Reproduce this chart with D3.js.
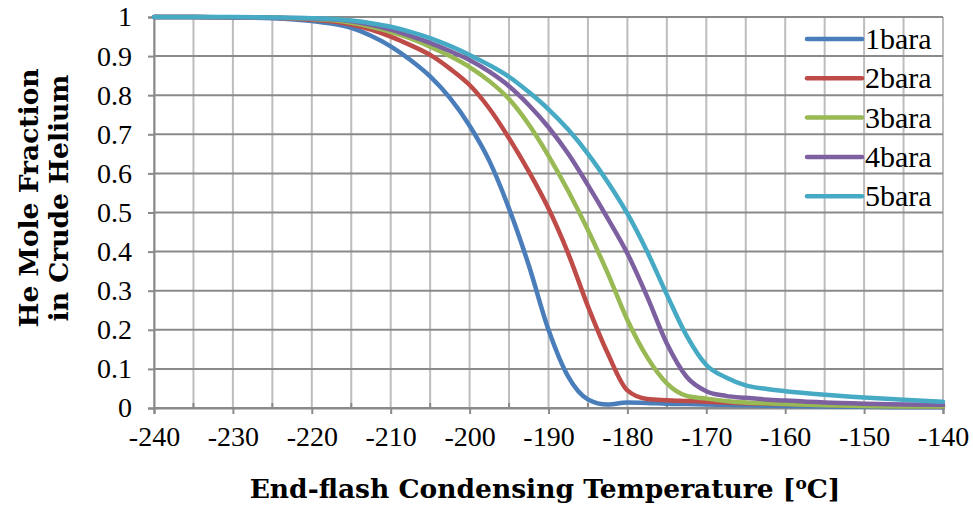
<!DOCTYPE html>
<html>
<head>
<meta charset="utf-8">
<script src="https://cdn.jsdelivr.net/npm/d3@7"></script>
<style>
  body { margin: 0; background: #fff; }
  text { fill: #000; }
</style>
</head>
<body>
<div id="chart"></div>
<script>
// temperatures (degC) sampled along the curves
const temps = [-240, -235, -230, -225, -220, -217.5, -215, -212.5, -210, -207.5, -205, -202.5,
  -200, -197.5, -195, -192.5, -190, -187.5, -185, -182.5, -180, -177.5, -175, -172.5, -170,
  -167.5, -165, -162.5, -160, -155, -150, -145, -140];

// He mole fraction in crude helium, one array per pressure
const bara1 = [1, 1, 0.999, 0.997, 0.99, 0.983, 0.972, 0.952, 0.925, 0.89, 0.848, 0.793,
  0.722, 0.632, 0.51, 0.365, 0.2, 0.08, 0.022, 0.009, 0.014, 0.013, 0.011, 0.01, 0.009,
  0.008, 0.007, 0.006, 0.005, 0.004, 0.003, 0.002, 0.002];
const bara2 = [1, 1, 0.999, 0.998, 0.993, 0.989, 0.981, 0.968, 0.95, 0.928, 0.903, 0.868,
  0.826, 0.766, 0.69, 0.605, 0.51, 0.395, 0.26, 0.14, 0.045, 0.023, 0.02, 0.018, 0.016,
  0.014, 0.012, 0.011, 0.01, 0.008, 0.006, 0.005, 0.004];
const bara3 = [1, 1, 0.999, 0.998, 0.995, 0.992, 0.985, 0.975, 0.962, 0.945, 0.924, 0.9,
  0.872, 0.836, 0.79, 0.725, 0.645, 0.555, 0.455, 0.345, 0.225, 0.13, 0.063, 0.031, 0.024,
  0.018, 0.014, 0.012, 0.01, 0.007, 0.005, 0.004, 0.004];
const bara4 = [1, 1, 0.999, 0.998, 0.996, 0.994, 0.989, 0.98, 0.968, 0.952, 0.934, 0.913,
  0.89, 0.86, 0.823, 0.775, 0.718, 0.65, 0.57, 0.485, 0.395, 0.285, 0.165, 0.08, 0.043,
  0.031, 0.026, 0.022, 0.019, 0.014, 0.011, 0.009, 0.008];
const bara5 = [1, 1, 1, 0.999, 0.997, 0.995, 0.991, 0.984, 0.975, 0.962, 0.946, 0.926,
  0.903, 0.877, 0.847, 0.808, 0.764, 0.712, 0.65, 0.578, 0.497, 0.4, 0.29, 0.185, 0.11,
  0.078, 0.058, 0.049, 0.043, 0.034, 0.027, 0.021, 0.016];

const seriesNames = ["1bara", "2bara", "3bara", "4bara", "5bara"];
const seriesValues = [bara1, bara2, bara3, bara4, bara5];
const seriesColors = ["#4A7EBB", "#BE4B48", "#98B954", "#7D60A0", "#46AAC5"];

const xTicks = [-240, -230, -220, -210, -200, -190, -180, -170, -160, -150, -140];
const xGrid = d3.range(-240, -139, 5);
const yTicks = [0, 0.1, 0.2, 0.3, 0.4, 0.5, 0.6, 0.7, 0.8, 0.9, 1];

const width = 973;
const height = 508;
const tickFont = "'Liberation Serif', serif";
const titleFont = "'DejaVu Serif', serif";

const svg = d3.select("#chart")
    .append("svg")
    .attr("width", width)
    .attr("height", height);

const x = d3.scaleLinear().domain([-240, -140]).range([154, 943]);
const y = d3.scaleLinear().domain([0, 1]).range([408, 17]);

// vertical gridlines every 5 degrees
svg.append("g")
    .selectAll("line")
    .data(xGrid)
    .enter().append("line")
    .attr("x1", d => x(d))
    .attr("x2", d => x(d))
    .attr("y1", y(0))
    .attr("y2", y(1))
    .attr("stroke", "#BDBDBD")
    .attr("stroke-width", 2);

// horizontal gridlines
svg.append("g")
    .selectAll("line")
    .data(yTicks)
    .enter().append("line")
    .attr("x1", x(-240))
    .attr("x2", x(-140))
    .attr("y1", d => y(d))
    .attr("y2", d => y(d))
    .attr("stroke", "#8A8A8A")
    .attr("stroke-width", 2);

// minor ticks (inside) on the x axis
svg.append("g")
    .selectAll("line")
    .data(xGrid.filter(d => d % 10 !== 0))
    .enter().append("line")
    .attr("x1", d => x(d))
    .attr("x2", d => x(d))
    .attr("y1", y(0))
    .attr("y2", y(0) - 5)
    .attr("stroke", "#8A8A8A")
    .attr("stroke-width", 2);

// axes
const xAxis = svg.append("g")
    .attr("transform", `translate(0,${y(0)})`)
    .call(d3.axisBottom(x).tickValues(xTicks).tickSize(6).tickPadding(12).tickFormat(d => String(d)));

const yAxis = svg.append("g")
    .attr("transform", `translate(${x(-240)},0)`)
    .call(d3.axisLeft(y).tickValues(yTicks).tickSize(6).tickPadding(16).tickFormat(d => String(d)));

[xAxis, yAxis].forEach(a => {
    a.select(".domain").attr("stroke", "#8A8A8A").attr("stroke-width", 2);
    a.selectAll(".tick line").attr("stroke", "#8A8A8A").attr("stroke-width", 2);
    a.selectAll(".tick text")
        .attr("font-family", tickFont)
        .attr("font-size", "28px")
        .attr("fill", "#000");
});

// curves
const line = d3.line()
    .x(d => x(d[0]))
    .y(d => y(d[1]))
    .curve(d3.curveMonotoneX);

svg.append("g")
    .selectAll("path")
    .data(seriesValues)
    .enter().append("path")
    .attr("d", vals => line(temps.map((t, i) => [t, vals[i]])))
    .attr("fill", "none")
    .attr("stroke", (d, i) => seriesColors[i])
    .attr("stroke-width", 4.5)
    .attr("stroke-linejoin", "round")
    .attr("stroke-linecap", "round");

// legend
const legend = svg.append("g")
    .selectAll("g")
    .data(seriesNames)
    .enter().append("g")
    .attr("transform", (d, i) => `translate(807,${39 + i * 39.3})`);

legend.append("line")
    .attr("x1", 0)
    .attr("x2", 55)
    .attr("stroke", (d, i) => seriesColors[i])
    .attr("stroke-width", 4.5)
    .attr("stroke-linecap", "round");

legend.append("text")
    .attr("x", 58)
    .attr("dy", "0.33em")
    .attr("font-family", tickFont)
    .attr("font-size", "30px")
    .text(d => d);

// axis titles
const xTitle = svg.append("text")
    .attr("x", 545)
    .attr("y", 498)
    .attr("text-anchor", "middle")
    .attr("font-family", titleFont)
    .attr("font-weight", "bold")
    .attr("font-size", "26.5px");

xTitle.append("tspan").text("End-flash Condensing Temperature [");
xTitle.append("tspan").attr("dy", -9).attr("font-size", "17px").text("o");
xTitle.append("tspan").attr("dy", 9).text("C]");

const yTitle = svg.append("text")
    .attr("transform", "translate(38,198) rotate(-90)")
    .attr("text-anchor", "middle")
    .attr("font-family", titleFont)
    .attr("font-weight", "bold")
    .attr("font-size", "26.5px");

yTitle.append("tspan").attr("x", 0).attr("y", 0).text("He Mole Fraction");
yTitle.append("tspan").attr("x", 0).attr("y", 30).text("in Crude Helium");
</script>
</body>
</html>
